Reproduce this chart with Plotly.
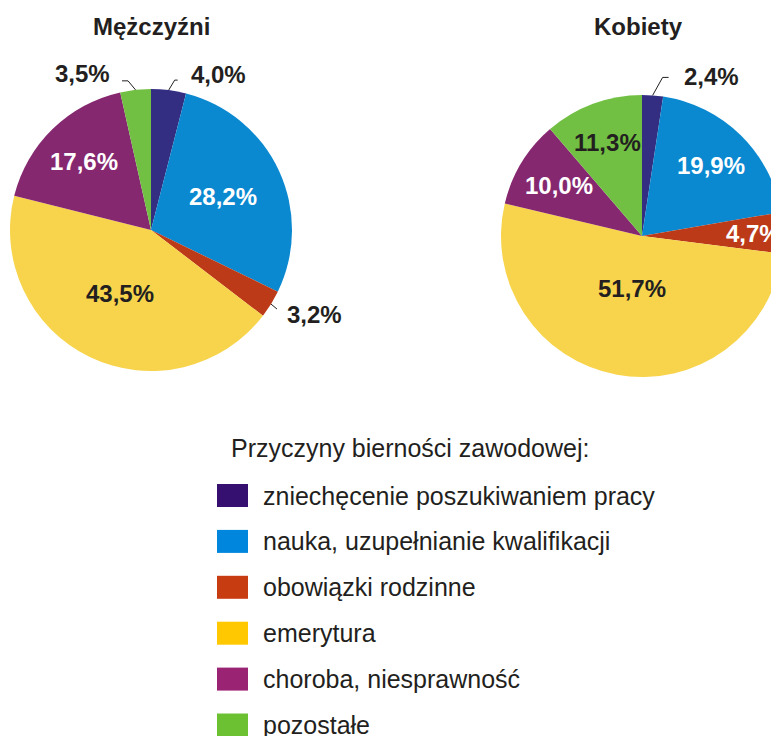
import math
import plotly.graph_objects as go

W, H = 779, 736
OFF = 8  # page body margin: screen = figure + 8 px

# ---------------- data ----------------
categories = [
    "zniechęcenie poszukiwaniem pracy",
    "nauka, uzupełnianie kwalifikacji",
    "obowiązki rodzinne",
    "emerytura",
    "choroba, niesprawność",
    "pozostałe",
]
men_values = [4.0, 28.2, 3.2, 43.5, 17.6, 3.5]
women_values = [2.4, 19.9, 4.7, 51.7, 10.0, 11.3]
group_titles = ["Mężczyźni", "Kobiety"]
legend_title = "Przyczyny bierności zawodowej:"

# ---------------- styles ----------------
FONT = "Liberation Sans, Arial, Helvetica, sans-serif"
DARK = "#231F20"
pie_colors = ["#332E82", "#0A88D0", "#BC3A18", "#F7D44C", "#86286F", "#72C043"]
legend_colors = ["#361070", "#0086DC", "#C83C12", "#FFC800", "#9A2473", "#6CC133"]

# label styles per slice: inside -> (frac, colour); outside -> leader offsets
men_label_style = [
    dict(kind="out", d1=(6, -10), h=3, gap=11, dy=-6),
    dict(kind="in", f=0.56, color="white"),
    dict(kind="out", d1=(6, 5), h=0, gap=8, dy=5),
    dict(kind="in", f=0.50, color=DARK),
    dict(kind="in", f=0.68, color="white"),
    dict(kind="out", d1=(-7.5, -9), h=-6, gap=10, dy=-7),
]
women_label_style = [
    dict(kind="out", d1=(10, -18), h=6, gap=13, dy=-1),
    dict(kind="in", f=0.70, color="white"),
    dict(kind="in", f=0.79, color="white"),
    dict(kind="in", f=0.38, color=DARK),
    dict(kind="in", f=0.69, color="white"),
    dict(kind="in", f=0.71, color=DARK),
]

# geometry in screen pixels
pies = [
    dict(values=men_values, title=group_titles[0], cx=151, cy=230, r=141,
         styles=men_label_style, title_x=151),
    dict(values=women_values, title=group_titles[1], cx=642, cy=236, r=141,
         styles=women_label_style, title_x=638),
]


def px(x):
    return (x - OFF) / W


def py(y):
    return 1 - (y - OFF) / H


def fmt(v):
    return f"{v:.1f}".replace(".", ",") + "%"


fig = go.Figure()
annotations = []
shapes = []

for p in pies:
    cx, cy, r = p["cx"], p["cy"], p["r"]
    fig.add_trace(go.Pie(
        labels=categories,
        values=p["values"],
        sort=False,
        direction="clockwise",
        rotation=0,
        marker=dict(colors=pie_colors, line=dict(width=0)),
        textinfo="none",
        hoverinfo="label+value",
        showlegend=False,
        domain=dict(x=[max(0, px(cx - r)), min(1, px(cx + r))],
                    y=[max(0, py(cy + r)), min(1, py(cy - r))]),
    ))
    annotations.append(dict(
        x=px(p["title_x"]), y=py(27), xref="paper", yref="paper",
        text=f"<b>{p['title']}</b>", showarrow=False,
        xanchor="center", yanchor="middle",
        font=dict(family=FONT, size=24, color=DARK)))

    total = sum(p["values"])
    cum = 0.0
    for v, st in zip(p["values"], p["styles"]):
        ang = math.radians(360.0 * (cum + v / 2) / total)
        cum += v
        sx, sy = math.sin(ang), -math.cos(ang)
        if st["kind"] == "in":
            lx = cx + st["f"] * r * sx
            ly = cy + st["f"] * r * sy
            annotations.append(dict(
                x=px(lx), y=py(ly), xref="paper", yref="paper",
                text=f"<b>{fmt(v)}</b>", showarrow=False,
                xanchor="center", yanchor="middle",
                font=dict(family=FONT, size=24, color=st["color"])))
        else:
            x0, y0 = cx + r * sx, cy + r * sy
            x1, y1 = x0 + st["d1"][0], y0 + st["d1"][1]
            x2 = x1 + st["h"]
            right = st["d1"][0] > 0
            shapes.append(dict(
                type="path", xref="paper", yref="paper",
                path=f"M {px(x0)},{py(y0)} L {px(x1)},{py(y1)} L {px(x2)},{py(y1)}",
                line=dict(color=DARK, width=1)))
            tx = x2 + st["gap"] if right else x2 - st["gap"]
            annotations.append(dict(
                x=px(tx), y=py(y1 + st["dy"]), xref="paper", yref="paper",
                text=f"<b>{fmt(v)}</b>", showarrow=False,
                xanchor="left" if right else "right", yanchor="middle",
                font=dict(family=FONT, size=24, color=DARK)))

# ---------------- legend ----------------
annotations.append(dict(
    x=px(229), y=py(448), xref="paper", yref="paper",
    text=legend_title, showarrow=False, xanchor="left", yanchor="middle",
    font=dict(family=FONT, size=25, color=DARK)))
row0, step = 495.5, 45.9
for i, (cat, col) in enumerate(zip(categories, legend_colors)):
    yc = row0 + step * i
    shapes.append(dict(
        type="rect", xref="paper", yref="paper",
        x0=px(217), x1=px(248), y0=py(yc - 11.5), y1=py(yc + 11.5),
        fillcolor=col, line=dict(width=0)))
    annotations.append(dict(
        x=px(261), y=py(yc), xref="paper", yref="paper",
        text=cat, showarrow=False, xanchor="left", yanchor="middle",
        font=dict(family=FONT, size=25, color=DARK)))

fig.update_layout(
    width=W, height=H,
    margin=dict(l=0, r=0, t=0, b=0),
    paper_bgcolor="white",
    plot_bgcolor="white",
    annotations=annotations,
    shapes=shapes,
    showlegend=False,
)

fig.write_html("out.html")
